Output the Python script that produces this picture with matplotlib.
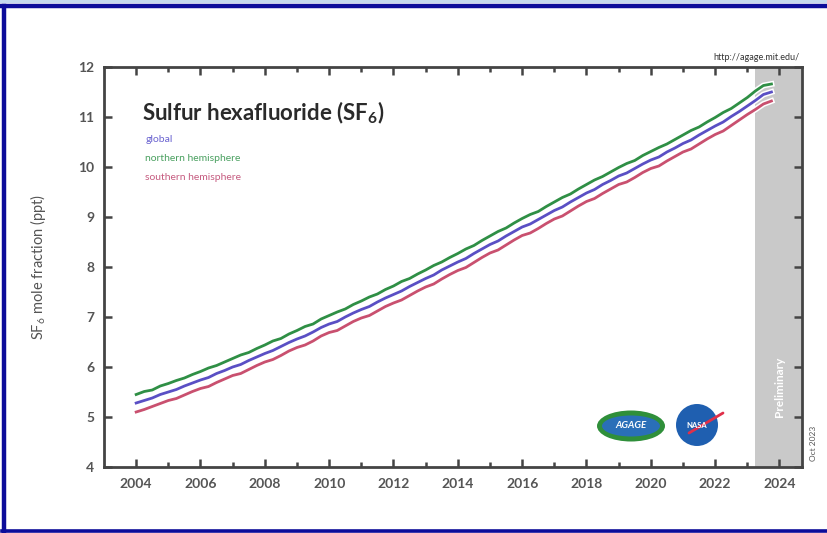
import numpy as np
import matplotlib
matplotlib.use("Agg")
import matplotlib.pyplot as plt
import matplotlib.patheffects as pe
from matplotlib.patches import Ellipse, Circle, Rectangle
from matplotlib.lines import Line2D

plt.rcParams["font.family"] = ["Lato", "DejaVu Sans"]
plt.rcParams["mathtext.fontset"] = "custom"
plt.rcParams["mathtext.rm"] = "Lato"
plt.rcParams["mathtext.bf"] = "Lato:bold"

# Quarterly SF6 mole fractions (ppt), starting 2004.0
start_year = 2004.0
global_ppt = [
    5.28, 5.33, 5.38, 5.45, 5.50, 5.55, 5.62, 5.68,
    5.74, 5.79, 5.87, 5.93, 6.00, 6.05, 6.13, 6.20,
    6.27, 6.33, 6.41, 6.49, 6.56, 6.62, 6.70, 6.79,
    6.86, 6.91, 7.00, 7.08, 7.15, 7.21, 7.30, 7.38,
    7.45, 7.52, 7.61, 7.69, 7.77, 7.84, 7.94, 8.02,
    8.10, 8.17, 8.27, 8.36, 8.45, 8.52, 8.62, 8.71,
    8.80, 8.86, 8.95, 9.04, 9.13, 9.20, 9.30, 9.39,
    9.48, 9.55, 9.65, 9.73, 9.82, 9.88, 9.97, 10.06,
    10.14, 10.20, 10.30, 10.38, 10.47, 10.54, 10.64, 10.73,
    10.82, 10.90, 11.01, 11.11, 11.22, 11.33, 11.45, 11.50,
]
northern_ppt = [
    5.45, 5.51, 5.54, 5.62, 5.67, 5.73, 5.78, 5.85,
    5.91, 5.98, 6.03, 6.10, 6.17, 6.24, 6.29, 6.37,
    6.44, 6.52, 6.57, 6.66, 6.73, 6.81, 6.86, 6.96,
    7.03, 7.10, 7.16, 7.25, 7.32, 7.40, 7.46, 7.55,
    7.62, 7.71, 7.77, 7.86, 7.94, 8.03, 8.10, 8.19,
    8.27, 8.36, 8.43, 8.53, 8.62, 8.71, 8.78, 8.88,
    8.97, 9.05, 9.11, 9.21, 9.30, 9.39, 9.46, 9.56,
    9.65, 9.74, 9.81, 9.90, 9.99, 10.07, 10.13, 10.23,
    10.31, 10.39, 10.46, 10.55, 10.64, 10.73, 10.80, 10.90,
    10.99, 11.09, 11.17, 11.28, 11.39, 11.52, 11.63, 11.66,
]
southern_ppt = [
    5.10, 5.15, 5.21, 5.27, 5.33, 5.37, 5.44, 5.51,
    5.57, 5.61, 5.69, 5.76, 5.83, 5.87, 5.95, 6.03,
    6.10, 6.15, 6.23, 6.32, 6.39, 6.44, 6.52, 6.62,
    6.69, 6.73, 6.82, 6.91, 6.98, 7.03, 7.12, 7.21,
    7.28, 7.34, 7.43, 7.52, 7.60, 7.66, 7.76, 7.85,
    7.93, 7.99, 8.09, 8.19, 8.28, 8.34, 8.44, 8.54,
    8.63, 8.68, 8.77, 8.87, 8.96, 9.02, 9.12, 9.22,
    9.31, 9.37, 9.47, 9.56, 9.65, 9.70, 9.79, 9.89,
    9.97, 10.02, 10.12, 10.21, 10.30, 10.36, 10.46, 10.56,
    10.65, 10.72, 10.83, 10.94, 11.05, 11.15, 11.26, 11.32,
]
preliminary_start = 2023.25
x_ticks = list(range(2004, 2025, 2))
y_ticks = list(range(4, 13))

years = start_year + 0.25 * np.arange(len(global_ppt))

c_glob = "#5a4fc4"
c_north = "#2f8f45"
c_south = "#c9506f"
txt_gray = "#555555"
axis_gray = "#444444"

fig = plt.figure(figsize=(8.27, 5.33), dpi=100)
ax = fig.add_axes([104 / 827, 1 - 467 / 533, 698 / 827, 400 / 533])

ax.set_xlim(2003.0, 2024.7)
ax.set_ylim(4, 12)

ax.axvspan(preliminary_start, 2024.7, color="#c9c9c9", lw=0, zorder=0)
ax.text(2024.0, 5.6, "Preliminary", rotation=90, color="white", fontsize=8.5,
        ha="center", va="center", fontweight="bold", zorder=1)

halo = [pe.Stroke(linewidth=4.2, foreground="white"), pe.Normal()]
for vals, col in [(southern_ppt, c_south), (global_ppt, c_glob), (northern_ppt, c_north)]:
    ax.plot(years, vals, color=col, lw=2.0, zorder=3, path_effects=halo,
            solid_joinstyle="round")

for s in ax.spines.values():
    s.set_color(axis_gray)
    s.set_linewidth(2.0)

ax.set_xticks(x_ticks)
ax.set_xticks(list(range(2005, 2025, 2)), minor=True)
ax.set_yticks(y_ticks)
ax.tick_params(axis="both", which="major", direction="in", length=6, width=1.8,
               color=axis_gray, top=True, right=True, labelsize=10, labelcolor=txt_gray)
ax.tick_params(axis="x", which="minor", direction="in", length=3.5, width=1.8,
               color=axis_gray, top=True)
ax.tick_params(axis="x", pad=8)
ax.tick_params(axis="y", pad=7)
for lab in ax.get_xticklabels() + ax.get_yticklabels():
    lab.set_fontweight("bold")

ax.set_ylabel("SF$_6$ mole fraction (ppt)", color=txt_gray, fontsize=10.5, labelpad=22)

# Title and legend text
ax.text(0.055, 0.885, r"Sulfur hexafluoride (SF$\mathbf{_6}$)", transform=ax.transAxes,
        fontsize=16, fontweight="bold", color="#2a2a2a", va="center", ha="left")
ax.text(0.059, 0.82, "global", transform=ax.transAxes, fontsize=7.5, color="#6a63d0", va="center")
ax.text(0.059, 0.772, "northern hemisphere", transform=ax.transAxes, fontsize=7.5,
        color="#4aa060", va="center")
ax.text(0.059, 0.725, "southern hemisphere", transform=ax.transAxes, fontsize=7.5,
        color="#c65c80", va="center")

# Source URL above the frame
fig.text(800 / 827, 1 - 57 / 533, "http://agage.mit.edu/", fontsize=6.5, color="#333333",
         ha="right", va="center")
fig.text(813 / 827, 1 - 443 / 533, "Oct 2023", rotation=90, fontsize=6, color="#555555",
         ha="center", va="center")

# Logos
def px(x, y):
    return ((x - 104) / 698, (467 - y) / 400)

ex, ey = px(631, 426)
ax.add_patch(Ellipse((ex, ey), 68 / 698, 31 / 400, transform=ax.transAxes,
                     facecolor="#2f8f3a", edgecolor="none", zorder=4))
ax.add_patch(Ellipse((ex, ey), 58 / 698, 21 / 400, transform=ax.transAxes,
                     facecolor="#2a6fb8", edgecolor="none", zorder=4))
ax.text(ex, ey, "AGAGE", transform=ax.transAxes, fontsize=7, fontweight="bold",
        fontstyle="italic", color="white", ha="center", va="center", zorder=5)
nx, ny = px(697, 425)
ax.add_patch(Ellipse((nx, ny), 42 / 698, 42 / 400, transform=ax.transAxes,
                     facecolor="#1f5fb0", edgecolor="none", zorder=4))
ax.plot([nx - 8 / 698, nx + 26 / 698], [ny - 8 / 400, ny + 12 / 400], transform=ax.transAxes,
        color="#e0304a", lw=2, zorder=5, solid_capstyle="round")
ax.text(nx, ny, "NASA", transform=ax.transAxes, fontsize=5.5, fontweight="bold",
        color="white", ha="center", va="center", zorder=6)

# Slide frame
fig.add_artist(Rectangle((0, 1 - 3 / 533), 1, 3 / 533, transform=fig.transFigure,
                         facecolor="#c5d8ee", edgecolor="none"))
fig.add_artist(Line2D([0.003, 1], [1 - 5.5 / 533] * 2, transform=fig.transFigure,
                      color="#0c0c9a", lw=3.2))
fig.add_artist(Line2D([4 / 827] * 2, [1 - 5.5 / 533, 1 - 530.5 / 533], transform=fig.transFigure,
                      color="#0c0c9a", lw=3.2))
fig.add_artist(Line2D([0.003, 1], [1 - 530.5 / 533] * 2, transform=fig.transFigure,
                      color="#0c0c9a", lw=2.6))

fig.savefig("out.png", dpi=100)
